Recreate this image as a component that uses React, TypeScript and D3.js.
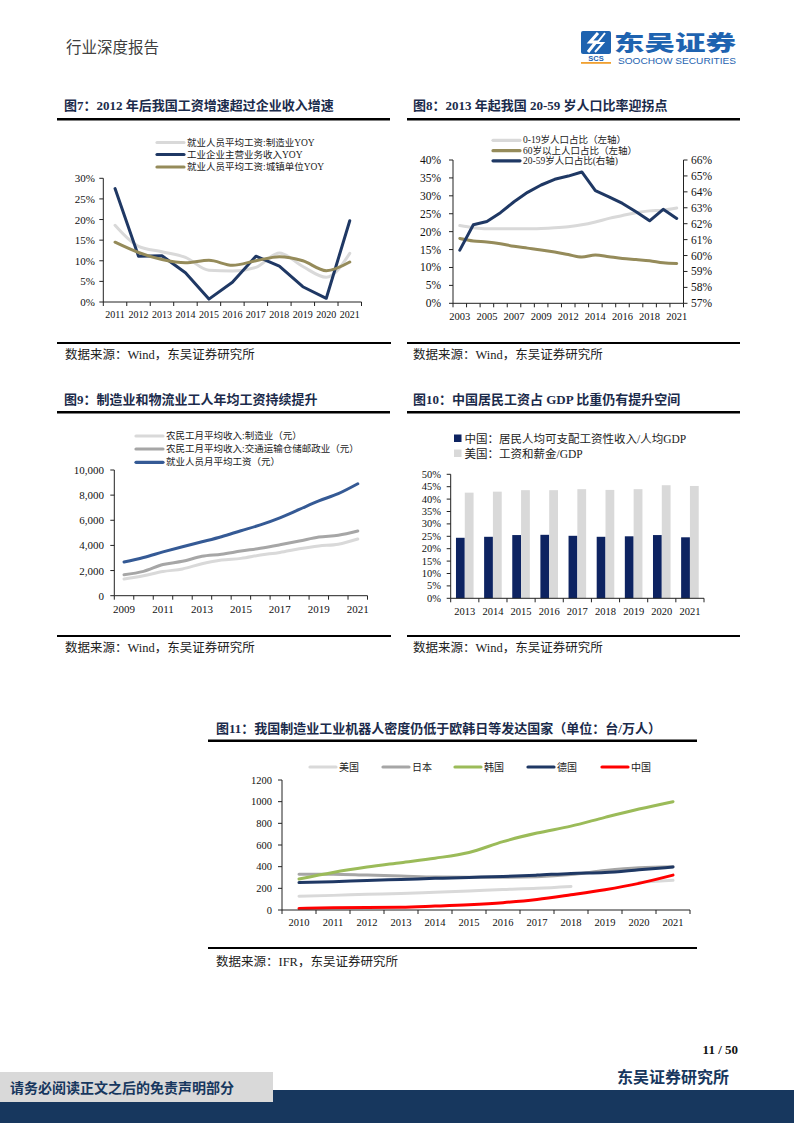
import React from 'react';
import * as d3 from 'd3';

const SERIF = "'Liberation Serif','Times New Roman','Noto Sans CJK SC',serif";
const NAVY_TXT = '#1b2b4b';

// ---------- Chart 7 data ----------
const years7 = ['2011', '2012', '2013', '2014', '2015', '2016', '2017', '2018', '2019', '2020', '2021'];
const mfgWageYoY = [18.6, 13.5, 12.2, 10.8, 7.7, 7.5, 8.4, 11.9, 8.6, 6.0, 11.8];
const revenueYoY = [27.5, 11.1, 11.2, 7.1, 0.7, 4.8, 11.1, 8.7, 3.7, 0.9, 19.7];
const urbanWageYoY = [14.5, 12.0, 10.3, 9.5, 10.1, 8.9, 10.0, 11.0, 10.0, 7.6, 9.7];
const ticks7 = [0, 5, 10, 15, 20, 25, 30];

// ---------- Chart 8 data ----------
const years8 = ['2003', '2004', '2005', '2006', '2007', '2008', '2009', '2010', '2012', '2013', '2014', '2015', '2016', '2017', '2018', '2020', '2021'];
const age0to19 = [21.7, 21.1, 20.8, 20.8, 20.8, 20.8, 20.9, 21.1, 21.4, 21.9, 22.7, 23.7, 24.5, 25.3, 25.8, 26.0, 26.6];
const age60plus = [18.1, 17.4, 17.1, 16.6, 15.9, 15.4, 14.9, 14.3, 13.6, 12.9, 13.5, 13.0, 12.5, 12.2, 11.9, 11.3, 11.1];
const age20to59 = [60.34, 61.93, 62.14, 62.69, 63.38, 63.97, 64.43, 64.79, 64.99, 65.25, 64.07, 63.69, 63.27, 62.75, 62.18, 62.9, 62.33];
const ticks8L = [0, 5, 10, 15, 20, 25, 30, 35, 40];
const ticks8R = [57, 58, 59, 60, 61, 62, 63, 64, 65, 66];

// ---------- Chart 9 data ----------
const years9 = ['2009', '2010', '2011', '2012', '2013', '2014', '2015', '2016', '2017', '2018', '2019', '2020', '2021'];
const migrantMfg = [1331, 1582, 1920, 2130, 2537, 2832, 2970, 3233, 3444, 3732, 3958, 4096, 4508];
const migrantTransport = [1671, 1935, 2485, 2735, 3133, 3301, 3553, 3775, 4048, 4345, 4667, 4814, 5151];
const avgMonthlyWage = [2687, 3045, 3483, 3897, 4290, 4695, 5169, 5631, 6193, 6868, 7542, 8115, 8903];
const ticks9 = [0, 2000, 4000, 6000, 8000, 10000];

// ---------- Chart 10 data ----------
const years10 = ['2013', '2014', '2015', '2016', '2017', '2018', '2019', '2020', '2021'];
const cnWageShare = [24.4, 24.8, 25.5, 25.6, 25.2, 24.8, 25.0, 25.5, 24.6];
const usWageShare = [42.6, 43.0, 43.6, 43.6, 44.0, 43.7, 44.0, 45.6, 45.3];
const ticks10 = [0, 5, 10, 15, 20, 25, 30, 35, 40, 45, 50];

// ---------- Chart 11 data ----------
const years11 = ['2010', '2011', '2012', '2013', '2014', '2015', '2016', '2017', '2018', '2019', '2020', '2021'];
const robotUSA = [128, 135, 145, 152, 164, 176, 189, 200, 217, null, 255, 274];
const robotJapan = [330, 331, 322, 314, 305, 303, 303, 308, 327, 364, 390, 399];
const robotKorea = [287, 347, 396, 437, 478, 531, 631, 710, 774, 855, 932, 1000];
const robotGermany = [253, 261, 273, 282, 292, 301, 309, 322, 338, 346, 371, 397];
const robotChina = [15, 21, 23, 25, 36, 49, 68, 97, 140, 187, 246, 322];
const ticks11 = [0, 200, 400, 600, 800, 1000, 1200];

type Band = d3.ScaleBand<string>;

const cx = (x: Band, c: string) => (x(c) as number) + x.bandwidth() / 2;

function Series({ x, y, cats, data, color, width = 3, curve = d3.curveMonotoneX }: any) {
  const line = d3
    .line<{ c: string; v: number | null }>()
    .defined((d) => d.v != null)
    .x((d) => cx(x, d.c))
    .y((d) => y(d.v as number))
    .curve(curve);
  const pts = cats.map((c: string, i: number) => ({ c, v: data[i] }));
  return (
    <path d={line(pts) || ''} fill="none" stroke={color} strokeWidth={width} strokeLinejoin="round" strokeLinecap="round" />
  );
}

function LeftAxis({ x0, y, ticks, fmt, fs, labelX, side = 'left' }: any) {
  const [r0, r1] = y.range();
  const dir = side === 'left' ? -1 : 1;
  return (
    <g>
      <line x1={x0} x2={x0} y1={r0} y2={r1} stroke="#222" strokeWidth={1} />
      {ticks.map((t: number) => (
        <g key={t}>
          <line x1={x0} x2={x0 + dir * 4} y1={y(t)} y2={y(t)} stroke="#222" strokeWidth={1} />
          <text
            x={labelX}
            y={y(t)}
            textAnchor={side === 'left' ? 'end' : 'start'}
            dominantBaseline="central"
            fontSize={fs}
            fontFamily={SERIF}
            fill="#111"
          >
            {fmt(t)}
          </text>
        </g>
      ))}
    </g>
  );
}

function BandAxis({ x, y0, fs, labelY, show }: any) {
  const [a, b] = x.range();
  const step = x.step();
  const n = x.domain().length;
  return (
    <g>
      <line x1={a} x2={b} y1={y0} y2={y0} stroke="#222" strokeWidth={1} />
      {d3.range(n + 1).map((i) => (
        <line key={i} x1={a + i * step} x2={a + i * step} y1={y0} y2={y0 + 4} stroke="#222" strokeWidth={1} />
      ))}
      {x.domain().map((d: string, i: number) =>
        !show || show(i) ? (
          <text key={d} x={cx(x, d)} y={labelY} textAnchor="middle" dominantBaseline="central" fontSize={fs} fontFamily={SERIF} fill="#111">
            {d}
          </text>
        ) : null
      )}
    </g>
  );
}

function LegendLine({ x, y, color, label, fs = 9.5, len = 27 }: any) {
  return (
    <g>
      <line x1={x} x2={x + len} y1={y} y2={y} stroke={color} strokeWidth={3.2} strokeLinecap="round" />
      <text x={x + len + 3} y={y} dominantBaseline="central" fontSize={fs} fontFamily={SERIF} fill="#222">
        {label}
      </text>
    </g>
  );
}

function Title({ x, y, text }: any) {
  return (
    <text x={x} y={y} dominantBaseline="central" fontSize={13} fontWeight={700} fontFamily={SERIF} fill={NAVY_TXT}>
      {text}
    </text>
  );
}

function Source({ x, y, text }: any) {
  return (
    <text x={x} y={y} dominantBaseline="central" fontSize={12.5} fontFamily={SERIF} fill="#222">
      {text}
    </text>
  );
}

const pct = (t: number) => `${t}%`;

function Chart7() {
  const x = d3.scaleBand<string>().domain(years7).range([103.3, 361.5]).padding(0);
  const y = d3.scaleLinear().domain([0, 30]).range([302, 178.3]);
  return (
    <g>
      <Title x={64} y={105} text="图7：2012 年后我国工资增速超过企业收入增速" />
      <line x1={57} x2={390} y1={119.3} y2={119.3} stroke="#000" strokeWidth={2.5} />
      <LegendLine x={157} y={142.5} color="#d9d9d9" label="就业人员平均工资:制造业YOY" />
      <LegendLine x={157} y={154.5} color="#1f3864" label="工业企业主营业务收入YOY" />
      <LegendLine x={157} y={167} color="#958b5a" label="就业人员平均工资:城镇单位YOY" />
      <Series x={x} y={y} cats={years7} data={mfgWageYoY} color="#d9d9d9" />
      <Series x={x} y={y} cats={years7} data={revenueYoY} color="#1f3864" curve={d3.curveLinear} />
      <Series x={x} y={y} cats={years7} data={urbanWageYoY} color="#958b5a" />
      <LeftAxis x0={103.3} y={y} ticks={ticks7} fmt={pct} fs={11} labelX={95} />
      <BandAxis x={x} y0={302} fs={10} labelY={314.5} />
      <line x1={57} x2={391} y1={343} y2={343} stroke="#000" strokeWidth={2} />
      <Source x={65} y={355} text="数据来源：Wind，东吴证券研究所" />
    </g>
  );
}

function Chart8() {
  const x = d3.scaleBand<string>().domain(years8).range([453, 683.5]).padding(0);
  const yL = d3.scaleLinear().domain([0, 40]).range([303.3, 160]);
  const yR = d3.scaleLinear().domain([57, 66]).range([303.3, 160]);
  return (
    <g>
      <Title x={413} y={105} text="图8：2013 年起我国 20-59 岁人口比率迎拐点" />
      <line x1={407} x2={740} y1={119.3} y2={119.3} stroke="#000" strokeWidth={2.5} />
      <LegendLine x={493} y={140.3} color="#d9d9d9" label="0-19岁人口占比（左轴）" />
      <LegendLine x={493} y={150.7} color="#958b5a" label="60岁以上人口占比（左轴）" />
      <LegendLine x={493} y={160.8} color="#1f3864" label="20-59岁人口占比(右轴)" />
      <Series x={x} y={yL} cats={years8} data={age0to19} color="#d9d9d9" />
      <Series x={x} y={yL} cats={years8} data={age60plus} color="#958b5a" />
      <Series x={x} y={yR} cats={years8} data={age20to59} color="#1f3864" curve={d3.curveLinear} />
      <LeftAxis x0={453} y={yL} ticks={ticks8L} fmt={pct} fs={11.5} labelX={441} />
      <LeftAxis x0={683.5} y={yR} ticks={ticks8R} fmt={pct} fs={11.5} labelX={691} side="right" />
      <BandAxis x={x} y0={303.3} fs={10.5} labelY={316.5} show={(i: number) => i % 2 === 0} />
      <line x1={407} x2={740} y1={343} y2={343} stroke="#000" strokeWidth={2} />
      <Source x={413} y={355} text="数据来源：Wind，东吴证券研究所" />
    </g>
  );
}

function Chart9() {
  const x = d3.scaleBand<string>().domain(years9).range([114.3, 367.5]).padding(0);
  const y = d3.scaleLinear().domain([0, 10000]).range([595.7, 470]);
  const fmt = d3.format(',');
  return (
    <g>
      <Title x={64} y={399.5} text="图9：制造业和物流业工人年均工资持续提升" />
      <line x1={57} x2={390} y1={412.3} y2={412.3} stroke="#000" strokeWidth={2.5} />
      <LegendLine x={136} y={436} color="#d9d9d9" label="农民工月平均收入:制造业（元）" />
      <LegendLine x={136} y={449} color="#a6a6a6" label="农民工月平均收入:交通运输仓储邮政业（元）" />
      <LegendLine x={136} y={462.3} color="#355a95" label="就业人员月平均工资（元）" />
      <Series x={x} y={y} cats={years9} data={migrantMfg} color="#d9d9d9" />
      <Series x={x} y={y} cats={years9} data={migrantTransport} color="#a6a6a6" />
      <Series x={x} y={y} cats={years9} data={avgMonthlyWage} color="#355a95" />
      <LeftAxis x0={114.3} y={y} ticks={ticks9} fmt={(t: number) => fmt(t)} fs={11} labelX={104} />
      <BandAxis x={x} y0={595.7} fs={11} labelY={609} show={(i: number) => i % 2 === 0} />
      <line x1={57} x2={391} y1={636} y2={636} stroke="#000" strokeWidth={2} />
      <Source x={65} y={648} text="数据来源：Wind，东吴证券研究所" />
    </g>
  );
}

function Chart10() {
  const x = d3.scaleBand<string>().domain(years10).range([450.7, 704]).padding(0);
  const y = d3.scaleLinear().domain([0, 50]).range([598.3, 474.3]);
  const bw = 8.8;
  return (
    <g>
      <Title x={413} y={399.5} text="图10：中国居民工资占 GDP 比重仍有提升空间" />
      <line x1={407} x2={740} y1={412.3} y2={412.3} stroke="#000" strokeWidth={2.5} />
      <rect x={454} y={434.5} width={7.5} height={7.5} fill="#0d2361" />
      <text x={464.5} y={438.5} dominantBaseline="central" fontSize={11.5} fontFamily={SERIF} fill="#222">
        中国：居民人均可支配工资性收入/人均GDP
      </text>
      <rect x={454} y={449.5} width={7.5} height={7.5} fill="#d9d9d9" />
      <text x={464.5} y={453.5} dominantBaseline="central" fontSize={11.5} fontFamily={SERIF} fill="#222">
        美国：工资和薪金/GDP
      </text>
      {years10.map((c, i) => (
        <g key={c}>
          <rect x={cx(x, c) - bw} y={y(cnWageShare[i])} width={bw} height={y(0) - y(cnWageShare[i])} fill="#0d2361" />
          <rect x={cx(x, c)} y={y(usWageShare[i])} width={bw} height={y(0) - y(usWageShare[i])} fill="#d9d9d9" />
        </g>
      ))}
      <LeftAxis x0={450.7} y={y} ticks={ticks10} fmt={pct} fs={10.5} labelX={441} />
      <BandAxis x={x} y0={598.3} fs={10.5} labelY={611.5} />
      <line x1={407} x2={740} y1={636} y2={636} stroke="#000" strokeWidth={2} />
      <Source x={413} y={648} text="数据来源：Wind，东吴证券研究所" />
    </g>
  );
}

function Chart11() {
  const x = d3.scaleBand<string>().domain(years11).range([282, 690]).padding(0);
  const y = d3.scaleLinear().domain([0, 1200]).range([910, 780]);
  const legend = [
    { label: '美国', color: '#d9d9d9', x: 310 },
    { label: '日本', color: '#a6a6a6', x: 383 },
    { label: '韩国', color: '#9bbb59', x: 455 },
    { label: '德国', color: '#1f3864', x: 528 },
    { label: '中国', color: '#ff0000', x: 602 },
  ];
  return (
    <g>
      <Title x={216} y={728} text="图11：我国制造业工业机器人密度仍低于欧韩日等发达国家（单位：台/万人）" />
      <line x1={208} x2={697} y1={740.7} y2={740.7} stroke="#000" strokeWidth={2.5} />
      {legend.map((l) => (
        <LegendLine key={l.label} x={l.x} y={767} color={l.color} label={l.label} fs={10} len={26} />
      ))}
      <Series x={x} y={y} cats={years11} data={robotUSA} color="#d9d9d9" />
      <Series x={x} y={y} cats={years11} data={robotJapan} color="#a6a6a6" />
      <Series x={x} y={y} cats={years11} data={robotKorea} color="#9bbb59" />
      <Series x={x} y={y} cats={years11} data={robotGermany} color="#1f3864" />
      <Series x={x} y={y} cats={years11} data={robotChina} color="#ff0000" />
      <LeftAxis x0={282} y={y} ticks={ticks11} fmt={(t: number) => `${t}`} fs={10.5} labelX={272} />
      <BandAxis x={x} y0={910} fs={10.5} labelY={922.5} />
      <line x1={208} x2={697} y1={948} y2={948} stroke="#000" strokeWidth={2} />
      <Source x={216} y={962} text="数据来源：IFR，东吴证券研究所" />
    </g>
  );
}

function Header() {
  return (
    <g>
      <text x={66} y={47} dominantBaseline="central" fontSize={15.5} fontFamily={SERIF} fill="#404040">
        行业深度报告
      </text>
      {/* logo */}
      <rect x={581} y={31} width={30} height={23} fill="#1e63b0" rx={2} />
      <path d="M598 33 L590 42 L596 42 L588 52" stroke="#fff" strokeWidth={3} fill="none" />
      <path d="M605 33 L597 43 L603 43 L595 52" stroke="#fff" strokeWidth={2} fill="none" />
      <text x={596} y={58.5} textAnchor="middle" dominantBaseline="central" fontSize={7.5} fontWeight={700} fontFamily="'Liberation Sans',sans-serif" fill="#1e63b0">
        SCS
      </text>
      <rect x={581} y={62} width={30} height={1.8} fill="#f0a030" />
      <text x={614} y={41} dominantBaseline="central" fontSize={21} fontWeight={900} fontFamily="'Noto Sans CJK SC',sans-serif" fill="#1e63b0" textLength={122} lengthAdjust="spacingAndGlyphs">
        东吴证券
      </text>
      <text x={618} y={61} dominantBaseline="central" fontSize={8.5} fontFamily="'Liberation Sans',sans-serif" fill="#1e63b0" textLength={118} lengthAdjust="spacingAndGlyphs">
        SOOCHOW SECURITIES
      </text>
    </g>
  );
}

function Footer() {
  return (
    <g>
      <text x={738} y={1049} textAnchor="end" dominantBaseline="central" fontSize={13} fontWeight={700} fontFamily={SERIF} fill="#111">
        11 / 50
      </text>
      <text x={729} y={1077} textAnchor="end" dominantBaseline="central" fontSize={16} fontWeight={700} fontFamily={SERIF} fill="#17375e">
        东吴证券研究所
      </text>
      <rect x={0} y={1090} width={794} height={33} fill="#17375e" />
      <rect x={0} y={1072} width={273} height={30} fill="#d9d9d9" />
      <text x={10} y={1088} dominantBaseline="central" fontSize={14} fontWeight={700} fontFamily={SERIF} fill="#17375e">
        请务必阅读正文之后的免责声明部分
      </text>
    </g>
  );
}

export default function App() {
  return (
    <svg width={794} height={1123} viewBox="0 0 794 1123" style={{ position: 'absolute', left: 0, top: 0, background: '#fff' }}>
      <rect x={0} y={0} width={794} height={1123} fill="#fff" />
      <Header />
      <Chart7 />
      <Chart8 />
      <Chart9 />
      <Chart10 />
      <Chart11 />
      <Footer />
    </svg>
  );
}
